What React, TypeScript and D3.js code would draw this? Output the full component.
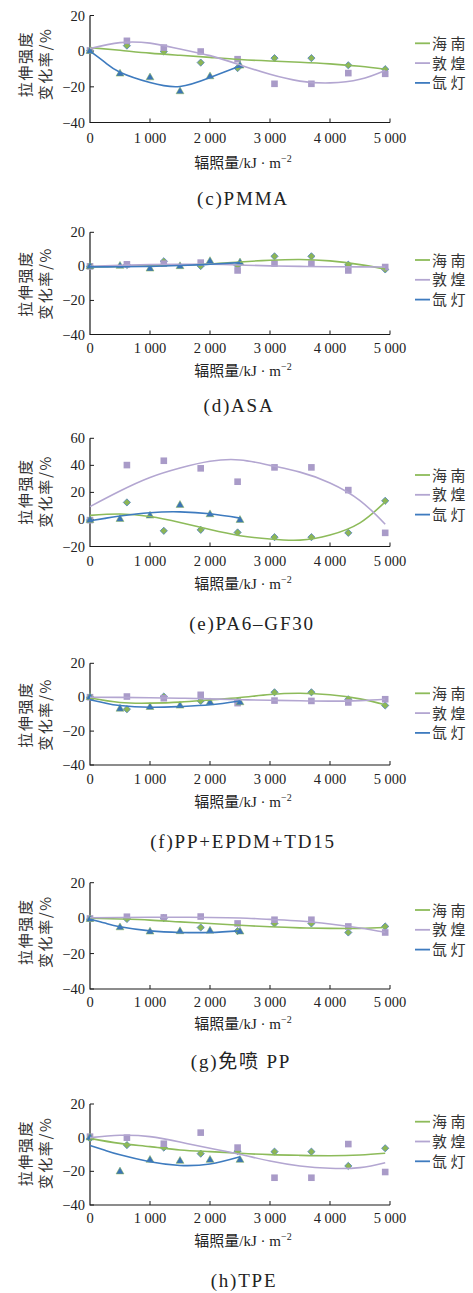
import React from "react";
import * as d3 from "d3";

// ---------- shared axis data ----------
const hainanX = [0, 615, 1230, 1845, 2460, 3075, 3690, 4305, 4920];
const xenonX = [0, 500, 1000, 1500, 2000, 2500];
const fitX = [0, 500, 1000, 1500, 2000, 2500, 3000, 3500, 4000, 4500, 4920];
const xenonFitX = [0, 250, 500, 1000, 1500, 2000, 2500];
const xTicks = [0, 1000, 2000, 3000, 4000, 5000];
const xTickLabels = ["0", "1 000", "2 000", "3 000", "4 000", "5 000"];
const yTicksStd = [-40, -20, 0, 20];
const yTickLabelsStd = ["−40", "−20", "0", "20"];
const yTicksPA = [-20, 0, 20, 40, 60];
const yTickLabelsPA = ["−20", "0", "20", "40", "60"];
const seriesNames = ["海南", "敦煌", "氙灯"];
const captions = ["(c)PMMA", "(d)ASA", "(e)PA6–GF30", "(f)PP+EPDM+TD15", "(g)免喷 PP", "(h)TPE"];
const yTitleLines = ["拉伸强度", "变化率/%"];

// ---------- (c) PMMA ----------
const pmmaHainan = [0.3, 3.1, -0.2, -6.4, -9.5, -3.9, -3.9, -7.9, -10.1];
const pmmaDunhuang = [0.4, 5.8, 2.0, -0.2, -4.5, -18.3, -18.3, -12.3, -12.7];
const pmmaXenon = [0, -12.7, -14.8, -22.6, -14.2, -8.2];
const pmmaHainanFit = [2, 0.5, -1.1, -2.3, -3.5, -4.7, -5.5, -6.2, -7.1, -8.5, -10.1];
const pmmaDunhuangFit = [1.5, 4.8, 4.5, 1.2, -2.5, -7.7, -13, -16.8, -17.8, -15.8, -10.8];
const pmmaXenonFit = [0, -6.3, -11.8, -17.6, -19.8, -14.8, -8.3];

// ---------- (d) ASA ----------
const asaHainan = [0, 0.8, 3.0, 0.2, 0.5, 5.9, 5.9, 1.0, -1.8];
const asaDunhuang = [0, 1.2, 1.6, 2.2, -2.4, 1.6, 1.6, -2.4, -0.4];
const asaXenon = [0, 0.2, -1.4, 0, 3.0, 2.2];
const asaHainanFit = [-0.3, 0, 0.3, 0.8, 1.4, 2.6, 3.6, 4.0, 3.2, 1.0, -1.6];
const asaDunhuangFit = [0, 0.6, 1.0, 1.2, 1.2, 0.8, 0.3, 0, -0.2, -0.3, -0.4];
const asaXenonFit = [-0.3, -0.3, -0.2, 0, 0.5, 1.2, 2.2];

// ---------- (e) PA6-GF30 ----------
const paHainan = [-0.5, 12.6, -8.4, -7.7, -9.6, -13.1, -13.1, -9.9, 13.8];
const paDunhuang = [-0.5, 40.2, 43.4, 37.8, 27.9, 38.5, 38.5, 21.7, -9.9];
const paXenon = [-0.5, 0.2, 2.7, 10.6, 3.7, -0.5];
const paHainanFit = [3, 4, 2.2, -2.2, -7.5, -12, -14.5, -15.3, -11.5, -2.5, 13];
const paDunhuangFit = [9.5, 21, 31, 38, 43, 44, 40, 35, 27, 14, -3.5];
const paXenonFit = [-1, 0.8, 2.5, 5, 5.6, 4.2, 1];

// ---------- (f) PP+EPDM+TD15 ----------
const ppeHainan = [0, -7.1, 0.4, -2.2, -2.5, 2.9, 2.9, -1.2, -4.9];
const ppeDunhuang = [0, 0.4, -0.6, 1.4, -3.5, -2, -2.2, -3.1, -1.2];
const ppeXenon = [0, -6.9, -5.9, -5.1, -3.1, -3.1];
const ppeHainanFit = [-0.5, -3.1, -3.5, -2.9, -1.6, -0.2, 1.6, 2.3, 1.4, -1, -4.5];
const ppeDunhuangFit = [0, -0.1, -0.3, -0.6, -1, -1.5, -1.8, -2.1, -2.3, -2.0, -1.2];
const ppeXenonFit = [-1.5, -3.4, -4.9, -5.9, -5.5, -4.5, -2.2];

// ---------- (g) 免喷 PP ----------
const ppHainan = [-0.6, -0.5, 0, -5.3, -7.3, -3, -3, -8.1, -4.7];
const ppDunhuang = [-0.2, 0.8, 0.4, 0.9, -3, -0.9, -0.9, -4.7, -8.1];
const ppXenon = [-0.6, -5.3, -7.7, -7.5, -7.2, -7.7];
const ppHainanFit = [0, -0.5, -1.1, -2.1, -3, -4, -4.9, -5.5, -5.8, -5.8, -5.3];
const ppDunhuangFit = [0.2, 0.4, 0.5, 0.5, 0.4, 0.1, -0.7, -1.6, -3.3, -5.6, -8];
const ppXenonFit = [-0.6, -2.8, -4.9, -7.2, -8.1, -8.1, -7.2];

// ---------- (h) TPE ----------
const tpeHainan = [-0.5, -4.4, -5.9, -9.5, -8, -8.3, -8.3, -16.8, -6.3];
const tpeDunhuang = [0.6, 0, -3.6, 3, -5.9, -23.8, -23.8, -3.8, -20.4];
const tpeXenon = [0, -20.2, -13.3, -13.9, -13.3, -13.3];
const tpeHainanFit = [-0.4, -3.4, -5.3, -7.3, -8.3, -9.3, -10.1, -10.5, -10.7, -10.3, -9.3];
const tpeDunhuangFit = [0, 1.4, 0.6, -2.6, -6.3, -9.9, -13.9, -16.8, -18.2, -17.8, -14.9];
const tpeXenonFit = [-4.6, -7.5, -10.2, -14.3, -16.5, -15.6, -11.3];

// ---------- layout (pixels) ----------
const layouts = [
  { top: 15.5, bottom: 122.5, tickY: 137.5, titleY: 162.5, capY: 198.5, legY: 43.3, yTitleY: 64, capX: 243 },
  { top: 232.3, bottom: 334.5, tickY: 348, titleY: 370, capY: 405, legY: 260, yTitleY: 283.5, capX: 239 },
  { top: 438.3, bottom: 546.5, tickY: 560.7, titleY: 583, capY: 623, legY: 475, yTitleY: 491.5, capX: 252 },
  { top: 663.3, bottom: 765, tickY: 779.3, titleY: 801.7, capY: 841.7, legY: 693.3, yTitleY: 714.5, capX: 243 },
  { top: 882.7, bottom: 989, tickY: 1001.7, titleY: 1023.3, capY: 1061.7, legY: 910, yTitleY: 931.7, capX: 241 },
  { top: 1104, bottom: 1205, tickY: 1217.7, titleY: 1240, capY: 1280.7, legY: 1121.7, yTitleY: 1153, capX: 244 },
];

const panels = [
  { yTicks: yTicksStd, yLabels: yTickLabelsStd, h: pmmaHainan, d: pmmaDunhuang, x: pmmaXenon, hf: pmmaHainanFit, df: pmmaDunhuangFit, xf: pmmaXenonFit },
  { yTicks: yTicksStd, yLabels: yTickLabelsStd, h: asaHainan, d: asaDunhuang, x: asaXenon, hf: asaHainanFit, df: asaDunhuangFit, xf: asaXenonFit },
  { yTicks: yTicksPA, yLabels: yTickLabelsPA, h: paHainan, d: paDunhuang, x: paXenon, hf: paHainanFit, df: paDunhuangFit, xf: paXenonFit },
  { yTicks: yTicksStd, yLabels: yTickLabelsStd, h: ppeHainan, d: ppeDunhuang, x: ppeXenon, hf: ppeHainanFit, df: ppeDunhuangFit, xf: ppeXenonFit },
  { yTicks: yTicksStd, yLabels: yTickLabelsStd, h: ppHainan, d: ppDunhuang, x: ppXenon, hf: ppHainanFit, df: ppDunhuangFit, xf: ppXenonFit },
  { yTicks: yTicksStd, yLabels: yTickLabelsStd, h: tpeHainan, d: tpeDunhuang, x: tpeXenon, hf: tpeHainanFit, df: tpeDunhuangFit, xf: tpeXenonFit },
];

const GREEN = "#8DBB5A";
const PURPLE = "#B3A6D1";
const BLUE = "#3E7BBF";
const DIAMOND_FILL = "#8DB654";
const DIAMOND_STROKE = "#4F81BD";
const SQUARE_FILL = "#A99BC8";
const TRI_FILL = "#3B74B6";
const FONT = "'Liberation Serif', 'Noto Sans CJK SC', serif";
const CJK = "'Noto Sans CJK SC', 'Liberation Serif', sans-serif";

const xScale = d3.scaleLinear().domain([0, 5000]).range([90, 390]);
const triPath = d3.symbol(d3.symbolTriangle, 27)() as string;

function Panel({ p, L, cap }: any) {
  const ticks: number[] = p.yTicks;
  const y = d3
    .scaleLinear()
    .domain([ticks[0], ticks[ticks.length - 1]])
    .range([L.bottom, L.top]);
  const line = d3
    .line<[number, number]>()
    .x((d) => xScale(d[0]))
    .y((d) => y(d[1]))
    .curve(d3.curveNatural);
  const hf = fitX.map((v, i) => [v, p.hf[i]] as [number, number]);
  const df = fitX.map((v, i) => [v, p.df[i]] as [number, number]);
  const xf = xenonFitX.map((v, i) => [v, p.xf[i]] as [number, number]);
  const x0 = xScale(0);
  const x1 = xScale(5000);
  const r = 3.6;
  const s = 6.6;
  const colors = [GREEN, PURPLE, BLUE];
  return (
    <g>
      {/* axes */}
      <path d={`M${x0},${L.top}V${L.bottom}H${x1}`} fill="none" stroke="#1a1a1a" strokeWidth={1.2} />
      {ticks.map((t: number, i: number) => (
        <g key={"yt" + i}>
          <line x1={x0} x2={x0 + 4} y1={y(t)} y2={y(t)} stroke="#1a1a1a" strokeWidth={1} />
          <text x={x0 - 5} y={y(t) + 5} textAnchor="end" fontSize={14.5} fontFamily={FONT} fill="#222">
            {p.yLabels[i]}
          </text>
        </g>
      ))}
      {xTicks.map((t, i) => (
        <g key={"xt" + i}>
          {t > 0 && <line x1={xScale(t)} x2={xScale(t)} y1={L.bottom} y2={L.bottom - 4} stroke="#1a1a1a" strokeWidth={1} />}
          <text x={xScale(t)} y={L.tickY + 5} textAnchor="middle" fontSize={14.5} fontFamily={FONT} fill="#222">
            {xTickLabels[i]}
          </text>
        </g>
      ))}
      {/* x title */}
      <text x={243} y={L.titleY + 5.5} textAnchor="middle" fontSize={15} fontFamily={FONT} fill="#222">
        辐照量/kJ · m
        <tspan fontSize={10} dy={-6}>−2</tspan>
      </text>
      {/* y title */}
      {yTitleLines.map((t, i) => (
        <text
          key={"ytl" + i}
          transform={`translate(${24 + i * 20},${L.yTitleY}) rotate(-90)`}
          textAnchor="middle"
          dominantBaseline="central"
          fontSize={15}
          letterSpacing={1.6}
          fontFamily={CJK}
          fill="#333"
        >
          {t}
        </text>
      ))}
      {/* markers */}
      {hainanX.map((v, i) => {
        const cx = xScale(v);
        const cy = y(p.h[i]);
        return (
          <path
            key={"h" + i}
            d={`M${cx},${cy - r}L${cx + r},${cy}L${cx},${cy + r}L${cx - r},${cy}Z`}
            fill={DIAMOND_FILL}
            stroke={DIAMOND_STROKE}
            strokeWidth={0.8}
          />
        );
      })}
      {hainanX.map((v, i) => (
        <rect key={"d" + i} x={xScale(v) - s / 2} y={y(p.d[i]) - s / 2} width={s} height={s} fill={SQUARE_FILL} />
      ))}
      {xenonX.map((v, i) => (
        <path
          key={"x" + i}
          d={triPath}
          transform={`translate(${xScale(v)},${y(p.x[i])})`}
          fill={TRI_FILL}
          stroke={DIAMOND_FILL}
          strokeWidth={0.5}
        />
      ))}
      {/* trend lines */}
      <path d={line(hf) as string} fill="none" stroke={GREEN} strokeWidth={1.6} />
      <path d={line(df) as string} fill="none" stroke={PURPLE} strokeWidth={1.6} />
      <path d={line(xf) as string} fill="none" stroke={BLUE} strokeWidth={1.6} />
      {/* legend */}
      {seriesNames.map((n, i) => (
        <g key={"lg" + i}>
          <line x1={415} x2={430} y1={L.legY + i * 19.8} y2={L.legY + i * 19.8} stroke={colors[i]} strokeWidth={1.8} />
          <text x={432} y={L.legY + i * 19.8 + 5.5} fontSize={15} letterSpacing={3.5} fontFamily={CJK} fill="#333">
            {n}
          </text>
        </g>
      ))}
      {/* caption */}
      <text x={L.capX} y={L.capY + 6.5} textAnchor="middle" fontSize={19} letterSpacing={1.8} fontFamily={FONT} fill="#222">
        {cap}
      </text>
    </g>
  );
}

export default function App() {
  return (
    <svg
      width={473}
      height={1293}
      viewBox="0 0 473 1293"
      style={{ position: "absolute", left: 0, top: 0, background: "#fff" }}
    >
      <rect width={473} height={1293} fill="#fff" />
      {panels.map((p, i) => (
        <Panel key={i} p={p} L={layouts[i]} cap={captions[i]} />
      ))}
    </svg>
  );
}
